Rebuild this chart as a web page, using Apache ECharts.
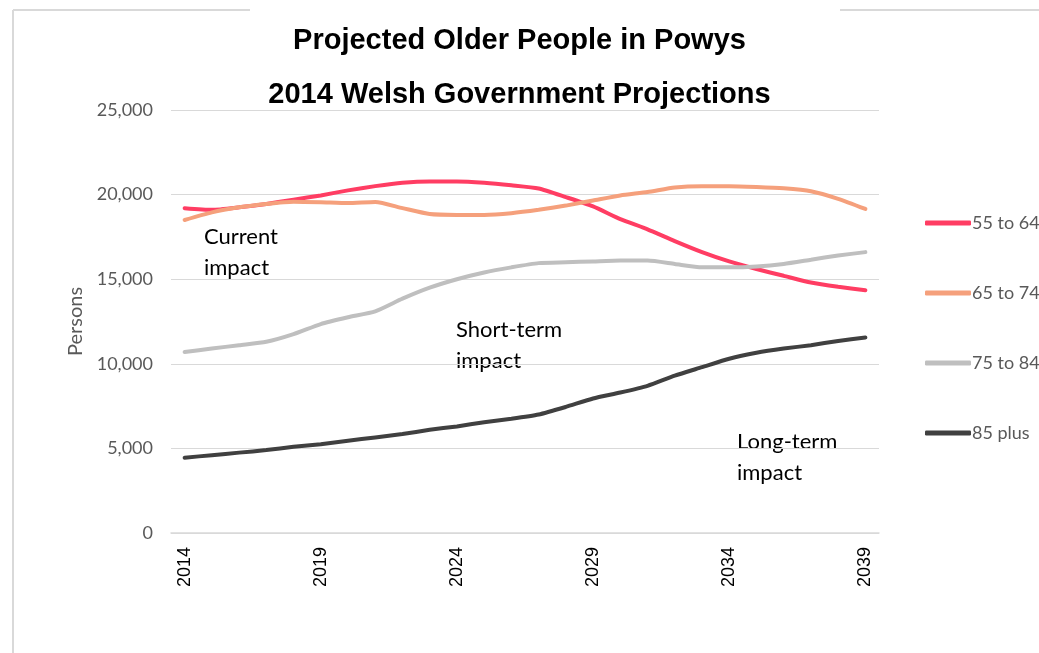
<!DOCTYPE html>
<html><head><meta charset="utf-8">
<script src="https://cdn.jsdelivr.net/npm/echarts@6/dist/echarts.min.js"></script>
<style>html,body{margin:0;padding:0;background:#fff}#c{width:1039px;height:653px}</style>
</head><body><div id="c"></div>
<script>
const years = ['2014','2015','2016','2017','2018','2019','2020','2021','2022','2023','2024','2025','2026','2027','2028','2029','2030','2031','2032','2033','2034','2035','2036','2037','2038','2039'];
const age55to64 = [19200,19100,19250,19450,19700,19950,20250,20500,20700,20780,20780,20700,20550,20360,19850,19300,18550,17950,17250,16600,16050,15600,15200,14800,14550,14350];
const age65to74 = [18500,18950,19250,19450,19580,19550,19500,19560,19200,18850,18800,18800,18900,19100,19350,19650,19950,20150,20420,20500,20500,20450,20370,20200,19750,19150];
const age75to84 = [10700,10900,11100,11300,11750,12350,12750,13100,13850,14500,15000,15400,15700,15950,16000,16050,16100,16100,15900,15700,15700,15750,15900,16150,16400,16600];
const age85plus = [4450,4600,4750,4900,5100,5250,5450,5650,5850,6100,6300,6550,6750,7000,7450,7950,8300,8700,9300,9800,10300,10650,10900,11100,11350,11550];
const yTicks = [0,5000,10000,15000,20000,25000];

const chart = echarts.init(document.getElementById('c'));
const mk = (name, data, color) => ({
  name, type:'line', data, symbol:'none', smooth:0.2,
  lineStyle:{color, width:4, cap:'round'}, itemStyle:{color}
});
const ann = (x,y,t) => ({type:'text', left:x, top:y, style:{text:t, font:'22px Lato', fill:'#000', lineHeight:31}});
chart.setOption({
  animation:false,
  title:[
    {text:'Projected Older People in Powys', left:'center', top:21, textStyle:{fontFamily:'Liberation Sans', fontWeight:'bold', fontSize:29, color:'#000'}},
    {text:'2014 Welsh Government Projections', left:'center', top:75, textStyle:{fontFamily:'Liberation Sans', fontWeight:'bold', fontSize:29, color:'#000'}}
  ],
  grid:{left:171, right:160, top:110, bottom:120, containLabel:false},
  legend:{
    orient:'vertical', left:920, top:209, itemWidth:46, itemHeight:5, itemGap:52,
    icon:'roundRect',
    textStyle:{fontFamily:'Lato', fontSize:18, color:'#595959', padding:[0,0,0,-4]},
    data:['55 to 64','65 to 74','75 to 84','85 plus']
  },
  xAxis:{
    type:'category', data:years, boundaryGap:true,
    axisLine:{lineStyle:{color:'#d9d9d9', width:1.5}},
    axisTick:{inside:true, length:7, interval:0, lineStyle:{color:'#d9d9d9'}},
    axisLabel:{interval:4, rotate:90, fontFamily:'Liberation Sans', fontSize:18, color:'#000', margin:14}
  },
  yAxis:{
    type:'value', min:0, max:25000, interval:5000,
    name:'Persons', nameLocation:'middle', nameGap:84, nameRotate:90,
    nameTextStyle:{fontFamily:'Lato', fontSize:20, color:'#595959'},
    axisLine:{show:false}, axisTick:{show:false},
    splitLine:{lineStyle:{color:'#d9d9d9', width:1}},
    axisLabel:{fontFamily:'Lato', fontSize:18, color:'#595959', margin:18,
      formatter:v=>v.toLocaleString('en-US')}
  },
  graphic:[
    {type:'line', shape:{x1:13,y1:10,x2:250,y2:10}, style:{stroke:'#d9d9d9', lineWidth:2}},
    {type:'line', shape:{x1:13,y1:10,x2:13,y2:653}, style:{stroke:'#d9d9d9', lineWidth:2}},
    {type:'line', shape:{x1:840,y1:10,x2:1039,y2:10}, style:{stroke:'#d9d9d9', lineWidth:2}},
    ann(204,221,'Current\nimpact'),
    ann(456,314,'Short-term\nimpact'),
    ann(737,426,'Long-term\nimpact')
  ],
  series:[
    mk('55 to 64', age55to64, '#ff3d63'),
    mk('65 to 74', age65to74, '#f5a07c'),
    mk('75 to 84', age75to84, '#bfbfbf'),
    mk('85 plus', age85plus, '#404040')
  ]
});
</script></body></html>
